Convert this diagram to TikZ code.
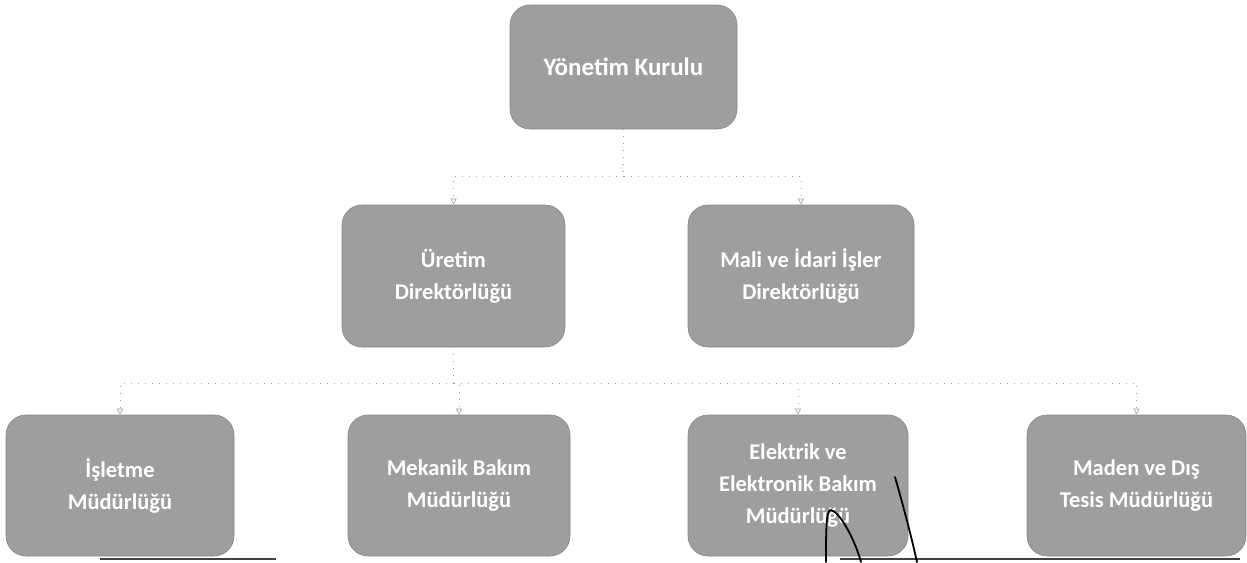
\documentclass[tikz,border=0pt]{standalone}
\usepackage{fontspec}
\setmainfont{Carlito}
\usetikzlibrary{arrows.meta}
\definecolor{boxgray}{HTML}{9E9E9E}
\definecolor{linegray}{HTML}{A0A0A0}
\tikzset{
  orgbox/.style={rectangle, rounded corners=20pt, fill=boxgray, draw=boxgray!85!black, line width=0.6pt,
    text=white, align=center, font=\bfseries\fontsize{22.5}{32}\selectfont, inner sep=0pt},
  conn/.style={draw=linegray, line width=0.8pt, dash pattern=on 1pt off 6pt},
  arr/.style={conn, -{Triangle[open, length=6pt, width=6pt, line width=0.6pt]}},
  scribble/.style={draw=black, line width=1.8pt, line cap=round}
}
\begin{document}
\begin{tikzpicture}[x=1pt,y=-1pt]
\useasboundingbox (0,0) rectangle (1247,562);
\node[orgbox, minimum width=227pt, minimum height=124pt, font=\bfseries\fontsize{25}{32}\selectfont] (top) at (623.5,67) {Yönetim Kurulu};
\node[orgbox, minimum width=223pt, minimum height=142pt] (ure) at (453.5,276) {Üretim\\Direktörlüğü};
\node[orgbox, minimum width=226pt, minimum height=142pt] (mal) at (801,276) {Mali ve İdari İşler\\Direktörlüğü};
\node[orgbox, minimum width=228pt, minimum height=141pt] (isl) at (120,485.5) {İşletme\\Müdürlüğü};
\node[orgbox, minimum width=222pt, minimum height=141pt] (mek) at (459,485.5) {Mekanik Bakım\\Müdürlüğü};
\node[orgbox, minimum width=220pt, minimum height=141pt] (ele) at (798,485.5) {Elektrik ve\\Elektronik Bakım\\Müdürlüğü};
\node[orgbox, minimum width=219pt, minimum height=141pt] (mad) at (1136.5,485.5) {Maden ve Dış\\Tesis Müdürlüğü};
% connectors level 1 -> 2
\coordinate (j1) at (623.5,176);
\draw[conn] (top.south) -- (j1);
\draw[arr] (j1) -| (ure.north);
\draw[arr] (j1) -| (mal.north);
% connectors level 2 -> 3
\coordinate (j2) at (453.5,383);
\draw[conn] (ure.south) -- (j2);
\draw[arr] (j2) -| (isl.north);
\draw[arr] (j2) -| (mek.north);
\draw[arr] (j2) -| (ele.north);
\draw[arr] (j2) -| (mad.north);
% scan artefacts: bottom edge line and pen marks
\draw[draw=black!75, line width=1.2pt] (100,559) -- (276,559);
\draw[draw=black!75, line width=1.2pt] (840,559) -- (1240,559);
\draw[scribble] (826,562) .. controls (826,530) and (826,510) .. (831,510) .. controls (840,512) and (855,540) .. (861,562);
\draw[scribble] (895,477) .. controls (903,505) and (911,535) .. (917,562);
\end{tikzpicture}
\end{document}
